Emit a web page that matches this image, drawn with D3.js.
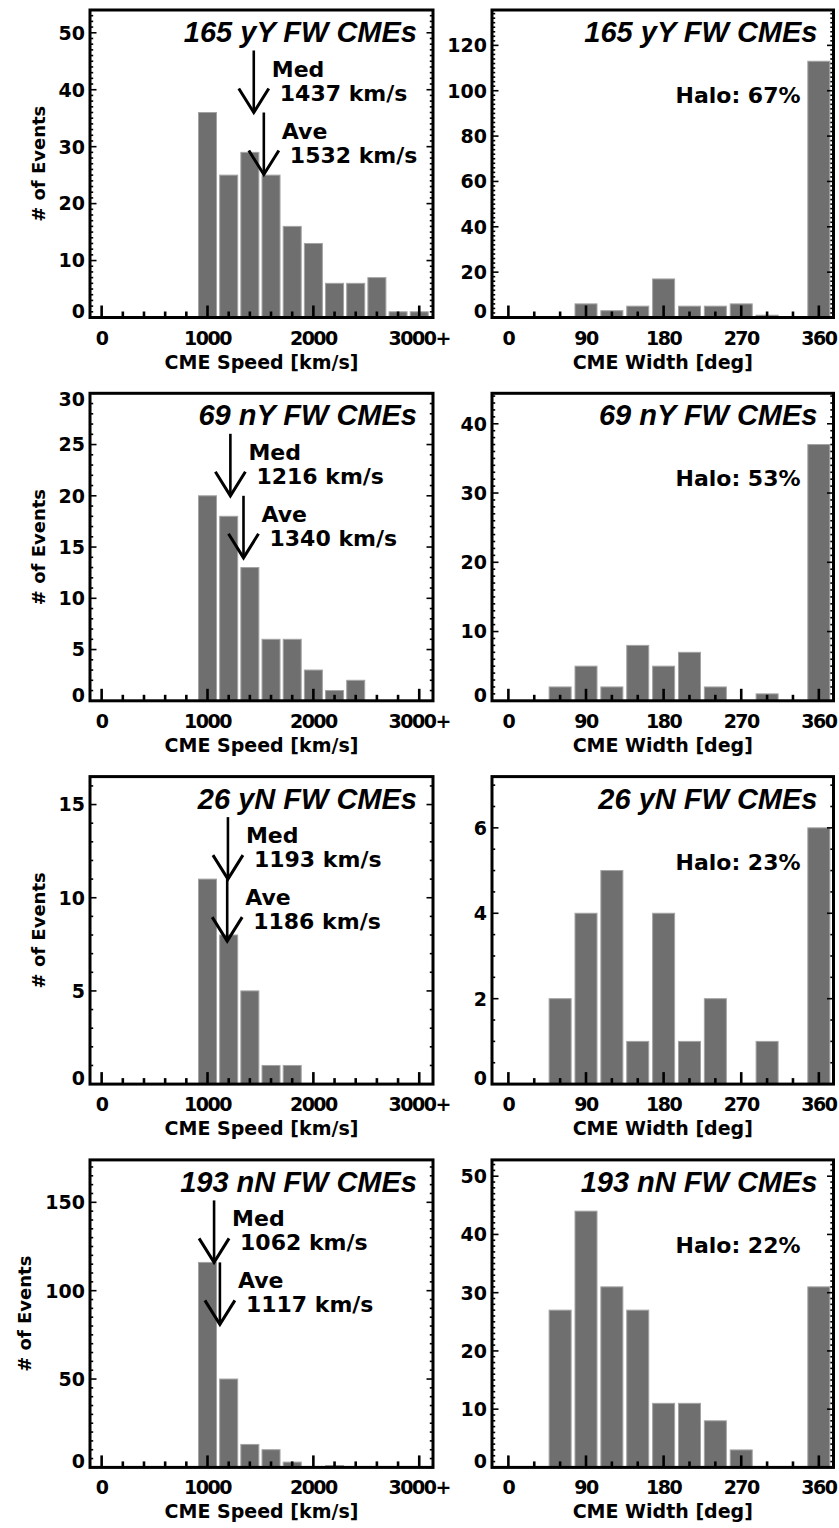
<!DOCTYPE html>
<html>
<head>
<meta charset="utf-8">
<script src="https://cdn.jsdelivr.net/npm/d3@7"></script>
<style>
  body { margin: 0; background: #fff; }
  svg text { font-family: "DejaVu Sans", sans-serif; font-weight: bold; fill: #000; }
  svg text.title { font-family: "Liberation Sans", Arial, sans-serif; font-style: italic; font-weight: bold; }
</style>
</head>
<body>
<svg id="chart" width="839" height="1528"></svg>
<script>
// ---- data -------------------------------------------------------------
const groupTitles = ["165 yY FW CMEs", "69 nY FW CMEs", "26 yN FW CMEs", "193 nN FW CMEs"];

// speed histogram: bin centres (km/s), last bin collects 3000+
const speedBins = [1000, 1200, 1400, 1600, 1800, 2000, 2200, 2400, 2600, 2800, 3000];
const speedCounts_yY = [36, 25, 29, 25, 16, 13, 6, 6, 7, 1, 1];
const speedCounts_nY = [20, 18, 13, 6, 6, 3, 1, 2, 0, 0, 0];
const speedCounts_yN = [11, 8, 5, 1, 1, 0, 0, 0, 0, 0, 0];
const speedCounts_nN = [116, 50, 13, 10, 3, 0, 1, 0, 0, 0, 0];

// width histogram: bin centres (deg), 360 = halo
const widthBins = [0, 30, 60, 90, 120, 150, 180, 210, 240, 270, 300, 330, 360];
const widthCounts_yY = [0, 0, 0, 6, 3, 5, 17, 5, 5, 6, 1, 0, 113];
const widthCounts_nY = [0, 0, 2, 5, 2, 8, 5, 7, 2, 0, 1, 0, 37];
const widthCounts_yN = [0, 0, 2, 4, 5, 1, 4, 1, 2, 0, 1, 0, 6];
const widthCounts_nN = [0, 0, 27, 44, 31, 27, 11, 11, 8, 3, 0, 0, 31];

const medianSpeed = [1437, 1216, 1193, 1062];
const averageSpeed = [1532, 1340, 1186, 1117];
const haloPercent = ["67%", "53%", "23%", "22%"];

const speedTicks = [0, 1000, 2000, 3000];
const speedTickLabels = ["0", "1000", "2000", "3000+"];
const speedMinorStep = 200;
const widthTicks = [0, 90, 180, 270, 360];
const widthTickLabels = ["0", "90", "180", "270", "360"];
const widthMinorStep = 30;

const speedYTicks = [[0, 10, 20, 30, 40, 50], [0, 5, 10, 15, 20, 25, 30], [0, 5, 10, 15], [0, 50, 100, 150]];
const speedYMinor = [1, 1, 1, 5];
const widthYTicks = [[0, 20, 40, 60, 80, 100, 120], [0, 10, 20, 30, 40], [0, 2, 4, 6], [0, 10, 20, 30, 40, 50]];
const widthYMinor = [2, 1, 0.5, 1];

const speedCounts = [speedCounts_yY, speedCounts_nY, speedCounts_yN, speedCounts_nN];
const widthCounts = [widthCounts_yY, widthCounts_nY, widthCounts_yN, widthCounts_nN];

// ---- layout -----------------------------------------------------------
const svg = d3.select("#chart");
const rowTop0 = 10, rowStep = 383.3, frameH = 307.5;
const leftX = [90, 433], rightX = [492, 833.5];
const barColor = "#6f6f6f";

function drawPanel(opts) {
  const { top, xr, xDomain, bins, counts, binW, headroom, xTicks, xTickLabels, xMinor,
          yTicks, yMinor, xTitle, title, yTitle } = opts;
  const bottom = top + frameH;
  const g = svg.append("g");
  const maxC = d3.max(counts);
  const x = d3.scaleLinear().domain(xDomain).range(xr);
  const y = d3.scaleLinear().domain([0, maxC * headroom]).range([bottom, top]);

  const clipId = "clip" + Math.round(top) + "_" + Math.round(xr[0]);
  g.append("clipPath").attr("id", clipId).append("rect")
    .attr("x", xr[0]).attr("y", top).attr("width", xr[1] - xr[0]).attr("height", frameH);

  // bars
  g.append("g").attr("clip-path", `url(#${clipId})`)
    .selectAll("rect").data(bins.map((b, i) => ({ b, c: counts[i] })).filter(d => d.c > 0))
    .join("rect")
    .attr("x", d => x(d.b - binW * 0.425))
    .attr("width", d => x(d.b + binW * 0.425) - x(d.b - binW * 0.425))
    .attr("y", d => y(d.c))
    .attr("height", d => y(0) - y(d.c))
    .attr("fill", barColor)
    .attr("stroke", "#a3a3a3")
    .attr("stroke-width", 1);

  // bottom axis ticks (pointing up into the plot)
  const xMinorVals = d3.range(xTicks[0], xTicks[xTicks.length - 1] + 1e-6, xMinor);
  g.append("g").selectAll("line").data(xMinorVals).join("line")
    .attr("x1", d => x(d)).attr("x2", d => x(d))
    .attr("y1", bottom).attr("y2", d => bottom - (xTicks.includes(d) ? 12 : 6))
    .attr("stroke", "#000").attr("stroke-width", 2.6);

  // left / right axis ticks
  const yMax = y.domain()[1];
  const yMinorVals = d3.range(0, yMax + 1e-6, yMinor);
  const isMajor = v => yTicks.some(t => Math.abs(t - v) < 1e-6);
  const yt = g.append("g");
  yt.selectAll("line.l").data(yMinorVals).join("line").attr("class", "l")
    .attr("x1", xr[0]).attr("x2", d => xr[0] + (isMajor(d) ? 6.5 : 3.2))
    .attr("y1", d => y(d)).attr("y2", d => y(d))
    .attr("stroke", "#000").attr("stroke-width", 1.6);
  yt.selectAll("line.r").data(yMinorVals).join("line").attr("class", "r")
    .attr("x1", xr[1]).attr("x2", d => xr[1] - (isMajor(d) ? 6.5 : 3.2))
    .attr("y1", d => y(d)).attr("y2", d => y(d))
    .attr("stroke", "#000").attr("stroke-width", 1.6);

  // frame
  g.append("rect").attr("x", xr[0]).attr("y", top)
    .attr("width", xr[1] - xr[0]).attr("height", frameH)
    .attr("fill", "none").attr("stroke", "#000").attr("stroke-width", 3);

  // x tick labels
  g.append("g").selectAll("text").data(xTicks).join("text")
    .attr("x", d => x(d)).attr("y", bottom + 27)
    .attr("text-anchor", "middle").attr("font-size", 19).attr("letter-spacing", -1.5)
    .text((d, i) => xTickLabels[i]);

  // y tick labels
  const yl = g.append("g");
  yl.selectAll("text").data(yTicks).join("text")
    .attr("x", xr[0] - 5)
    .attr("y", d => Math.max(top + 6, Math.min(y(d), bottom - 6)))
    .attr("dy", "0.36em")
    .attr("text-anchor", "end").attr("font-size", 19)
    .text(d => d);

  // x title
  g.append("text").attr("x", (xr[0] + xr[1]) / 2).attr("y", bottom + 51)
    .attr("text-anchor", "middle").attr("font-size", 19).text(xTitle);

  // y title, placed left of the tick labels
  if (yTitle) {
    const lb = yl.node().getBBox();
    g.append("text")
      .attr("transform", `translate(${lb.x - 14},${(top + bottom) / 2}) rotate(-90)`)
      .attr("text-anchor", "middle").attr("font-size", 18).text(yTitle);
  }

  // panel title
  g.append("text").attr("class", "title")
    .attr("x", xr[1] - 16).attr("y", top + 32)
    .attr("text-anchor", "end").attr("font-size", 29).text(title);

  return { g, x, y, maxC, top, bottom };
}

function drawArrow(g, xPos, yFrom, yTip) {
  g.append("line").attr("x1", xPos).attr("x2", xPos).attr("y1", yFrom).attr("y2", yTip)
    .attr("stroke", "#000").attr("stroke-width", 2.6);
  g.append("path")
    .attr("d", `M${xPos - 15},${yTip - 24}L${xPos},${yTip}L${xPos + 15},${yTip - 24}`)
    .attr("fill", "none").attr("stroke", "#000").attr("stroke-width", 3)
    .attr("stroke-linejoin", "miter");
}

for (let r = 0; r < 4; r++) {
  const top = rowTop0 + r * rowStep;

  // speed distribution
  const sp = drawPanel({
    top, xr: leftX, xDomain: [-110, 3130], bins: speedBins, counts: speedCounts[r], binW: 200,
    headroom: 1.5, xTicks: speedTicks, xTickLabels: speedTickLabels, xMinor: speedMinorStep,
    yTicks: speedYTicks[r], yMinor: speedYMinor[r], xTitle: "CME Speed [km/s]",
    title: groupTitles[r], yTitle: "# of Events"
  });
  const yPeak = sp.y(sp.maxC);
  const xm = sp.x(medianSpeed[r]);
  const xa = sp.x(averageSpeed[r]);
  drawArrow(sp.g, xm, yPeak - 62, yPeak);
  drawArrow(sp.g, xa, yPeak, yPeak + 62);
  sp.g.append("text").attr("x", xm + 18).attr("y", yPeak - 36).attr("font-size", 22).text("Med");
  sp.g.append("text").attr("x", xm + 26).attr("y", yPeak - 12).attr("font-size", 22).text(`${medianSpeed[r]} km/s`);
  sp.g.append("text").attr("x", xa + 18).attr("y", yPeak + 62 - 36).attr("font-size", 22).text("Ave");
  sp.g.append("text").attr("x", xa + 26).attr("y", yPeak + 62 - 12).attr("font-size", 22).text(`${averageSpeed[r]} km/s`);

  // width distribution
  const wd = drawPanel({
    top, xr: rightX, xDomain: [-19, 377], bins: widthBins, counts: widthCounts[r], binW: 30,
    headroom: 1.2, xTicks: widthTicks, xTickLabels: widthTickLabels, xMinor: widthMinorStep,
    yTicks: widthYTicks[r], yMinor: widthYMinor[r], xTitle: "CME Width [deg]",
    title: groupTitles[r], yTitle: null
  });
  wd.g.append("text").attr("x", rightX[1] - 33).attr("y", top + 93)
    .attr("text-anchor", "end").attr("font-size", 22).text(`Halo: ${haloPercent[r]}`);
}
</script>
</body>
</html>
